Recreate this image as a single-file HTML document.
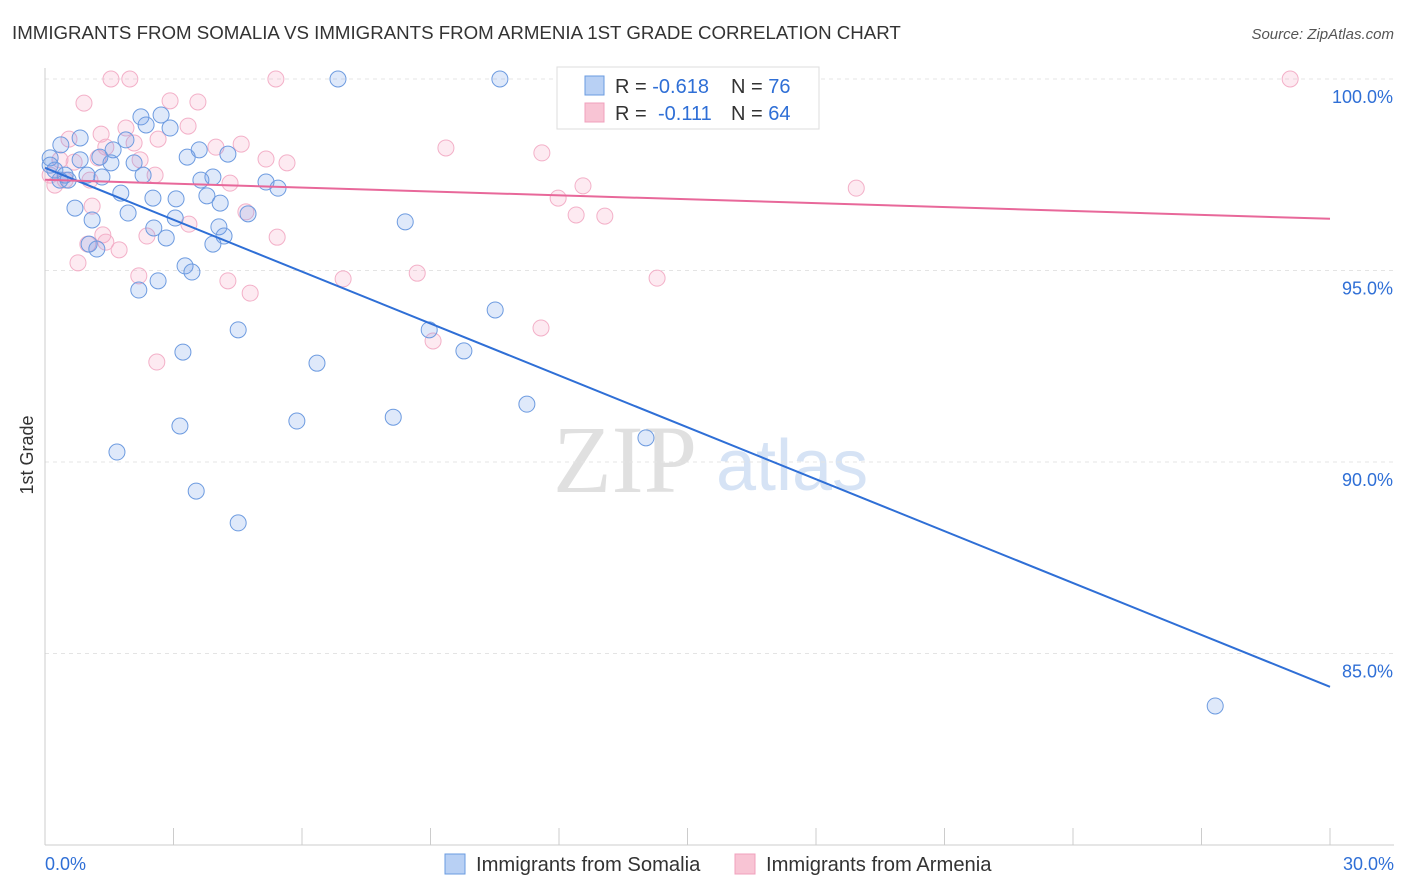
<!DOCTYPE html>
<html><head><meta charset="utf-8">
<style>
body{margin:0;background:#fff;font-family:"Liberation Sans",sans-serif;}
#wrap{position:relative;width:1406px;height:892px;overflow:hidden;}
</style></head>
<body>
<div id="wrap">
<svg id="svg" width="1406" height="892" xmlns="http://www.w3.org/2000/svg">
<text x="12" y="39" font-size="18.7" fill="#333">IMMIGRANTS FROM SOMALIA VS IMMIGRANTS FROM ARMENIA 1ST GRADE CORRELATION CHART</text>
<text x="1394" y="39" font-size="15" fill="#555" font-style="italic" text-anchor="end">Source: ZipAtlas.com</text>
<text x="33" y="455" font-size="18" fill="#333" text-anchor="middle" transform="rotate(-90 33 455)">1st Grade</text>
<g>
<text x="553" y="492" font-size="96" font-family="Liberation Serif,serif" fill="#e0e0e0">ZIP</text>
<text x="716" y="490" font-size="72" fill="#d6e3f5">atlas</text>
</g>
<g id="grid"></g>
<g id="axes"></g>
<g id="pts"></g>
<g id="trends"></g>
<g>
<rect x="557" y="67" width="262" height="62" fill="#fff" stroke="#ddd"/>
<rect x="585" y="76" width="19" height="19" fill="#b8d0f4" stroke="#6a9be0"/>
<rect x="585" y="103" width="19" height="19" fill="#f8c4d4" stroke="#f0a0bc"/>
<text x="615" y="93" font-size="20" fill="#333">R = <tspan fill="#2f6fd6">-0.618</tspan><tspan x="731">N = </tspan><tspan fill="#2f6fd6">76</tspan></text>
<text x="615" y="120" font-size="20" fill="#333">R = <tspan x="658" fill="#2f6fd6">-0.111</tspan><tspan x="731">N = </tspan><tspan fill="#2f6fd6">64</tspan></text>
</g>
<g>
<rect x="445" y="854" width="20" height="20" fill="#b8d0f4" stroke="#6a9be0"/>
<text x="476" y="871" font-size="20.2" fill="#333">Immigrants from Somalia</text>
<rect x="735" y="854" width="20" height="20" fill="#f8c4d4" stroke="#f0a0bc"/>
<text x="766" y="871" font-size="20.2" fill="#333">Immigrants from Armenia</text>
</g>
</svg>
</div>
<script>
const xTicks=[0,3,6,9,12,15,18,21,24,27,30];
const yTicks=[100,95,90,85];
const somaliaX=[6.84,10.62,2.24,2.71,2.36,2.92,0.82,1.89,0.37,1.59,3.60,4.27,3.32,1.28,2.08,1.54,0.12,0.23,0.98,2.29,0.54,1.33,3.92,3.64,5.16,5.44,1.77,2.52,3.06,3.78,4.09,0.70,1.94,4.74,1.10,3.04,8.41,2.54,4.06,2.83,4.18,3.92,1.03,1.21,3.27,3.43,2.64,2.19,4.51,8.97,10.51,9.78,3.22,6.35,11.25,8.13,5.88,3.15,14.03,1.68,3.53,4.51,27.32,0.35,0.47,0.12,0.82];
const somaliaY=[100,100,99.01,99.06,98.80,98.72,98.46,98.41,98.28,98.15,98.15,98.04,97.96,97.96,97.81,97.81,97.94,97.62,97.49,97.49,97.36,97.44,97.44,97.36,97.31,97.15,97.02,96.89,96.87,96.95,96.76,96.63,96.50,96.48,96.32,96.37,96.27,96.11,96.14,95.85,95.90,95.69,95.69,95.56,95.12,94.96,94.73,94.49,93.45,93.45,93.97,92.90,92.87,92.58,91.51,91.17,91.07,90.94,90.63,90.26,89.24,88.41,83.63,97.36,97.49,97.75,97.89];
const armeniaX=[1.54,1.98,5.39,29.07,0.91,3.57,2.92,1.89,3.34,1.31,0.56,2.64,2.08,3.99,4.58,9.36,11.60,1.42,5.16,5.65,2.22,0.35,0.68,1.24,2.57,4.32,12.56,18.94,11.98,13.07,12.40,1.10,3.36,4.69,1.35,2.38,5.42,1.42,1.73,1.00,0.77,2.19,4.27,6.96,8.69,14.29,4.79,11.58,9.06,2.61,0.23,0.12,0.47,1.05];
const armeniaY=[100,100,100,100,99.37,99.40,99.43,98.72,98.77,98.56,98.43,98.43,98.33,98.22,98.30,98.20,98.07,98.22,97.91,97.81,97.89,97.89,97.83,97.94,97.49,97.28,97.21,97.15,96.89,96.42,96.45,96.68,96.21,96.53,95.93,95.90,95.87,95.74,95.54,95.69,95.20,94.86,94.73,94.78,94.93,94.80,94.41,93.50,93.16,92.61,97.23,97.49,97.36,97.36];
const somaliaTrend=[97.68,84.13];
const armeniaTrend=[97.37,96.35];

const NS="http://www.w3.org/2000/svg";
const X0=45,X1=1330,Y100=79,PXPER=38.3;
function sx(v){return X0+(v/30)*(X1-X0);}
function sy(v){return Y100+(100-v)*PXPER;}
function mk(tag,attrs,parent){const e=document.createElementNS(NS,tag);for(const k in attrs)e.setAttribute(k,attrs[k]);parent.appendChild(e);return e;}
const grid=document.getElementById('grid'),axes=document.getElementById('axes'),pts=document.getElementById('pts'),tr=document.getElementById('trends');
yTicks.forEach(v=>{
  const l=mk('line',{x1:X0,x2:1394,y1:sy(v),y2:sy(v),stroke:'#e4e4e4','stroke-dasharray':'4,4'},grid);
  
  
  const t=mk('text',{x:1393,y:sy(v)+24,'font-size':18,fill:'#2f6fd6','text-anchor':'end'},axes);
  t.textContent=v.toFixed(1)+'%';
  
  
});
const al=mk('line',{x1:X0,x2:X0,y1:68,y2:845,stroke:'#ccc'},axes);


const bl=mk('line',{x1:X0,x2:1394,y1:845,y2:845,stroke:'#ccc'},axes);


xTicks.forEach(v=>{
  const t=mk('line',{x1:sx(v),x2:sx(v),y1:828,y2:845,stroke:'#ccc'},axes);
  
  
});
[[0,'0.0%','start',45],[30,'30.0%','end',1394]].forEach(a=>{
  const t=mk('text',{x:a[3],y:870,'font-size':18,fill:'#2f6fd6','text-anchor':a[2]},axes);
  t.textContent=a[1];
  
  
});
armeniaX.forEach((x,i)=>{
  const c=mk('circle',{cx:sx(x),cy:sy(armeniaY[i]),r:8,fill:'rgba(244,160,190,0.22)',stroke:'#f3b0c8','stroke-width':1},pts);
  
  
});
somaliaX.forEach((x,i)=>{
  const c=mk('circle',{cx:sx(x),cy:sy(somaliaY[i]),r:8,fill:'rgba(110,155,230,0.22)',stroke:'#6d9be0','stroke-width':1},pts);
  
  
});
const t1=mk('line',{x1:sx(0),y1:sy(somaliaTrend[0]),x2:sx(30),y2:sy(somaliaTrend[1]),stroke:'#2f6fd6','stroke-width':2},tr);


const t2=mk('line',{x1:sx(0),y1:sy(armeniaTrend[0]),x2:sx(30),y2:sy(armeniaTrend[1]),stroke:'#e8689a','stroke-width':2},tr);


</script>
</body></html>
